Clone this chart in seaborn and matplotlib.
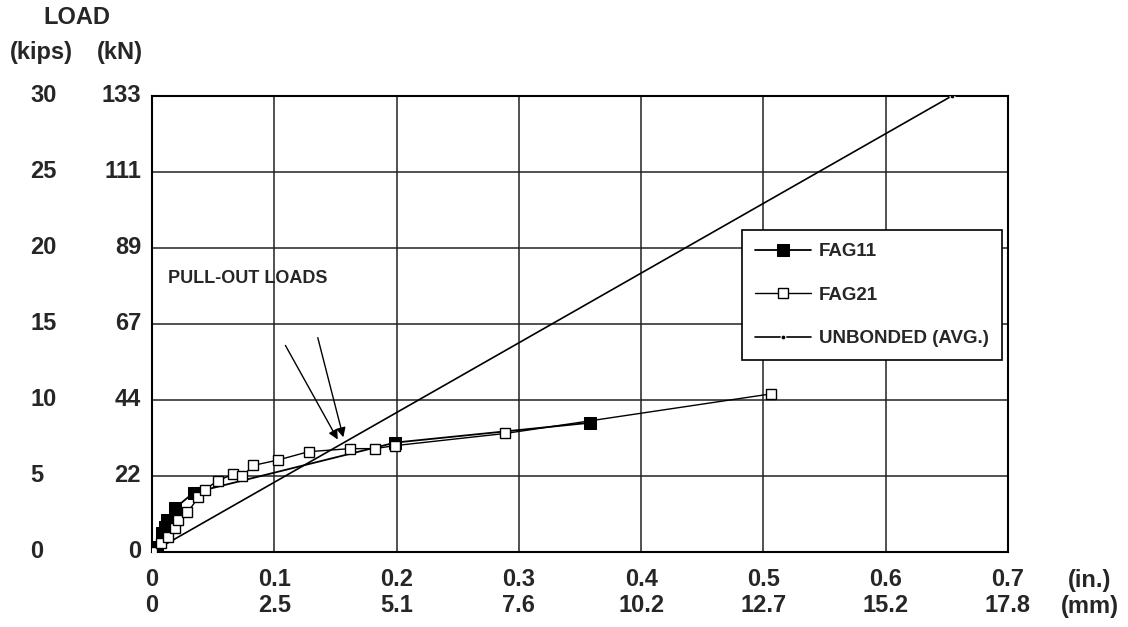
import numpy as np
import pandas as pd
import matplotlib
matplotlib.use('Agg')
import matplotlib.pyplot as plt
import matplotlib.transforms as mtransforms
import seaborn as sns

# slip (in.) vs load (kips)
fag11_slip = [0.0, 0.004, 0.008, 0.011, 0.012, 0.019, 0.034, 0.199, 0.358]
fag11_load = [0.0, 0.33, 1.25, 1.65, 2.1, 2.9, 3.9, 7.2, 8.5]

fag21_slip = [0.0, 0.007, 0.013, 0.019, 0.021, 0.029, 0.038, 0.043, 0.054, 0.066,
              0.074, 0.083, 0.103, 0.128, 0.162, 0.182, 0.199, 0.289, 0.506]
fag21_load = [0.0, 0.6, 1.0, 1.6, 2.1, 2.6, 3.6, 4.1, 4.7, 5.1,
              5.0, 5.7, 6.05, 6.6, 6.8, 6.8, 7.0, 7.8, 10.4]

unb_slip = [0.0, 0.654]
unb_load = [0.0, 30.0]

kips_ticks = [0, 5, 10, 15, 20, 25, 30]
kn_labels = ['0', '22', '44', '67', '89', '111', '133']
in_ticks = [0, 0.1, 0.2, 0.3, 0.4, 0.5, 0.6, 0.7]
in_labels = ['0', '0.1', '0.2', '0.3', '0.4', '0.5', '0.6', '0.7']
mm_labels = ['0', '2.5', '5.1', '7.6', '10.2', '12.7', '15.2', '17.8']

sns.set_style('white')
plt.rcParams['font.family'] = ['Liberation Sans', 'DejaVu Sans']
plt.rcParams['font.weight'] = 'bold'

fig = plt.figure(figsize=(11.28, 6.27), dpi=100)
ax = fig.add_axes([152/1128, 1-552/627, 856/1128, 456/627])

df11 = pd.DataFrame({'slip': fag11_slip, 'load': fag11_load})
df21 = pd.DataFrame({'slip': fag21_slip, 'load': fag21_load})
dfu = pd.DataFrame({'slip': unb_slip, 'load': unb_load})

sns.lineplot(data=dfu, x='slip', y='load', ax=ax, sort=False, estimator=None,
             color='black', lw=1.2, marker='o', markersize=3.5, label='UNBONDED (AVG.)', zorder=3)
sns.lineplot(data=df11, x='slip', y='load', ax=ax, sort=False, estimator=None,
             color='black', lw=1.3, marker='s', markersize=8, markerfacecolor='black',
             markeredgecolor='black', label='FAG11', zorder=4)
sns.lineplot(data=df21, x='slip', y='load', ax=ax, sort=False, estimator=None,
             color='black', lw=1.0, marker='s', markersize=6.5, markerfacecolor='white',
             markeredgecolor='black', markeredgewidth=1.0, label='FAG21', zorder=5)

ax.set_xlim(0, 0.7)
ax.set_ylim(0, 30)
ax.set_xticks(in_ticks)
ax.set_yticks(kips_ticks)
ax.set_xticklabels([])
ax.set_yticklabels([])
ax.tick_params(length=0)
ax.set_xlabel('')
ax.set_ylabel('')
ax.grid(True, color='#222222', lw=1.1)
for s in ax.spines.values():
    s.set_visible(True)
    s.set_color('black')
    s.set_linewidth(1.5)

fs = 17
# two columns of y labels
ytr = mtransforms.blended_transform_factory(fig.transFigure, ax.transData)
for v, kn in zip(kips_ticks, kn_labels):
    ax.text(30/1128, v, str(v), transform=ytr, ha='left', va='center', fontsize=fs, fontweight='bold')
    ax.text(141/1128, v, kn, transform=ytr, ha='right', va='center', fontsize=fs, fontweight='bold')

# two rows of x labels
xtr = mtransforms.blended_transform_factory(ax.transData, fig.transFigure)
for v, lin, lmm in zip(in_ticks, in_labels, mm_labels):
    ax.text(v, 1-580/627, lin, transform=xtr, ha='center', va='center', fontsize=fs, fontweight='bold')
    ax.text(v, 1-606/627, lmm, transform=xtr, ha='center', va='center', fontsize=fs, fontweight='bold')
fig.text(1090/1128, 1-580/627, '(in.)', ha='center', va='center', fontsize=fs, fontweight='bold')
fig.text(1090/1128, 1-606/627, '(mm)', ha='center', va='center', fontsize=fs, fontweight='bold')

fig.text(77/1128, 1-18/627, 'LOAD', ha='center', va='center', fontsize=fs, fontweight='bold')
fig.text(41/1128, 1-52/627, '(kips)', ha='center', va='center', fontsize=fs, fontweight='bold')
fig.text(120/1128, 1-52/627, '(kN)', ha='center', va='center', fontsize=fs, fontweight='bold')

# pull-out annotation
ax.text(0.078, 18.0, 'PULL-OUT LOADS', ha='center', va='center', fontsize=13, fontweight='bold')
ax.annotate('', xy=(0.153, 7.24), xytext=(0.108, 13.75),
            arrowprops=dict(arrowstyle='-|>', color='black', lw=1.0, mutation_scale=14))
ax.annotate('', xy=(0.157, 7.37), xytext=(0.135, 14.28),
            arrowprops=dict(arrowstyle='-|>', color='black', lw=1.0, mutation_scale=14))

handles, labels = ax.get_legend_handles_labels()
order = [labels.index(n) for n in ['FAG11', 'FAG21', 'UNBONDED (AVG.)']]
leg = ax.legend([handles[i] for i in order], [labels[i] for i in order],
                loc='upper left', bbox_to_anchor=(0.689, 0.706), fancybox=False,
                frameon=True, edgecolor='black', framealpha=1, borderpad=0.7,
                labelspacing=1.4, handlelength=3.0, handletextpad=0.43,
                borderaxespad=0, fontsize=13.5)
leg.get_frame().set_linewidth(1.2)
for t in leg.get_texts():
    t.set_fontweight('bold')

fig.savefig('out.png', dpi=100)
